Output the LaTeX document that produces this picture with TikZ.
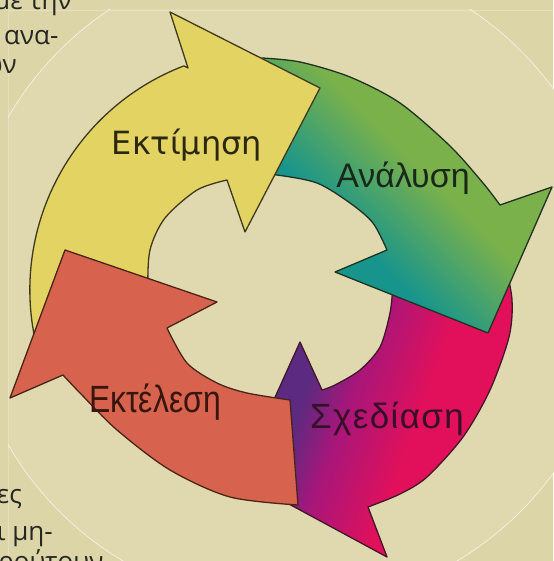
\documentclass[tikz,border=0pt]{standalone}
\usepackage{fontspec}
\setmainfont{Liberation Sans}
\newfontfamily\dejavu{DejaVu Sans}
\newfontfamily\opensans{Open Sans}
\newfontfamily\spaced[LetterSpace=4]{Liberation Sans}
\usepackage{graphicx}
\definecolor{bgc}{HTML}{DCD5A8}
\definecolor{discc}{HTML}{E0D9AF}
\definecolor{yel}{HTML}{E3D363}
\definecolor{red1}{HTML}{D7634F}
\definecolor{ggreen}{HTML}{7BB14B}
\definecolor{gteal}{HTML}{17958C}
\definecolor{mpurp}{HTML}{5C2A80}
\definecolor{mmag}{HTML}{A8167A}
\definecolor{mcrim}{HTML}{E2105A}
\definecolor{edgey}{HTML}{3F3A1C}
\definecolor{edgeg}{HTML}{1E3320}
\definecolor{edgem}{HTML}{40182A}
\definecolor{edger}{HTML}{4A2416}
\definecolor{txty}{HTML}{2C280E}
\definecolor{txtg}{HTML}{18281A}
\definecolor{txtm}{HTML}{361028}
\definecolor{txtr}{HTML}{38160E}
\definecolor{fragc}{HTML}{262622}
\pgfdeclareverticalshading{greensh}{100bp}{color(0bp)=(gteal); color(38bp)=(gteal); color(55bp)=(ggreen); color(100bp)=(ggreen)}
\pgfdeclareverticalshading{magsh}{100bp}{color(0bp)=(mcrim); color(42bp)=(mcrim); color(55bp)=(mmag); color(63bp)=(mpurp); color(100bp)=(mpurp)}
\begin{document}
\begin{tikzpicture}[x=1pt,y=-1pt,
  arrowedge/.style={line width=1.3pt,line join=round},
  lbl/.style={anchor=base,inner sep=0pt},
  frag/.style={inner sep=0pt,font=\opensans\fontsize{26}{26}\selectfont,text=fragc}]
\useasboundingbox (0,0) rectangle (553,561);
\fill[bgc] (0,0) rectangle (553,561);
\begin{scope}
  \clip (8,10) rectangle (560,570);
  \fill[discc] (290,281) circle[radius=326];
  \draw[white,opacity=0.75,line width=0.6pt] (290,281) circle[radius=326];
\end{scope}
\draw[white,opacity=0.25,line width=0.5pt] (8,561) -- (8,10) -- (553,10);

% Sxediasi (magenta)
\shade[shading=magsh,shading angle=70,draw=edgem,arrowedge]
  plot[smooth] coordinates {(505,262) (512,300) (509,337) (490,390) (463,437) (427,477) (400,494) (368,507)}
  -- (387,557) -- (239,477) -- (300,342)
  -- plot[smooth] coordinates {(322,390) (335,385) (360,370) (380,347) (390,313) (393,285) (395,262)}
  -- cycle;
% Analysi (green)
\shade[shading=greensh,shading angle=-45,draw=edgeg,arrowedge]
  plot[smooth] coordinates {(262,58) (300,62) (350,77) (400,103) (450,146) (483,183) (500,205)}
  -- (552,187) -- (488,333) -- (335,272)
  -- plot[smooth] coordinates {(387,250) (373,223) (350,203) (317,183) (277,175) (262,175)}
  -- cycle;
% Ektimisi (yellow)
\filldraw[fill=yel,draw=edgey,arrowedge]
  (37,348) arc[start angle=166,end angle=249,radius=240]
  -- (188,68) -- (170,12) -- (320,88) -- (245,232)
  -- plot[smooth] coordinates {(227,180) (197,190) (165,218) (150,250) (148,290) (152,320)}
  -- cycle;
% Ektelesi (red)
\filldraw[fill=red1,draw=edger,arrowedge]
  (290,400) -- (298,505)
  -- plot[smooth] coordinates {(298,505) (230,497) (170,470) (117,430) (80,393) (63,375)}
  -- (10,398) -- (65,250) -- (217,302)
  -- plot[smooth] coordinates {(167,328) (187,363) (217,383) (247,393) (290,400)}
  -- cycle;

\node[lbl,text=txty,font=\dejavu\fontsize{32}{32}\selectfont] (t1) at (187,155) {Εκτίμηση};
\node[lbl,text=txtg,font=\fontsize{34}{34}\selectfont] (t2) at (403,187) {Ανάλυση};
\node[lbl,text=txtm,font=\spaced\fontsize{35}{35}\selectfont] (t3) at (387,428) {Σχεδίαση};
\node[lbl,text=txtr,font=\fontsize{38}{38}\selectfont] (t4) at (155,412) {\scalebox{0.84}[1]{Εκτέλεση}};

\node[frag,anchor=base east] (f1) at (72,10) {η με την};
\node[frag,anchor=base west] (f2) at (4,45) {ανα-};
\node[frag,anchor=base east] (f3) at (17,74) {ων};
\node[frag,anchor=base east] (f4) at (22,503) {ες};
\node[frag,anchor=base east] (f5) at (53,540) {και μη-};
\node[frag,anchor=base west] (f6) at (-2,570) {ρούτουν};
\end{tikzpicture}
\end{document}
